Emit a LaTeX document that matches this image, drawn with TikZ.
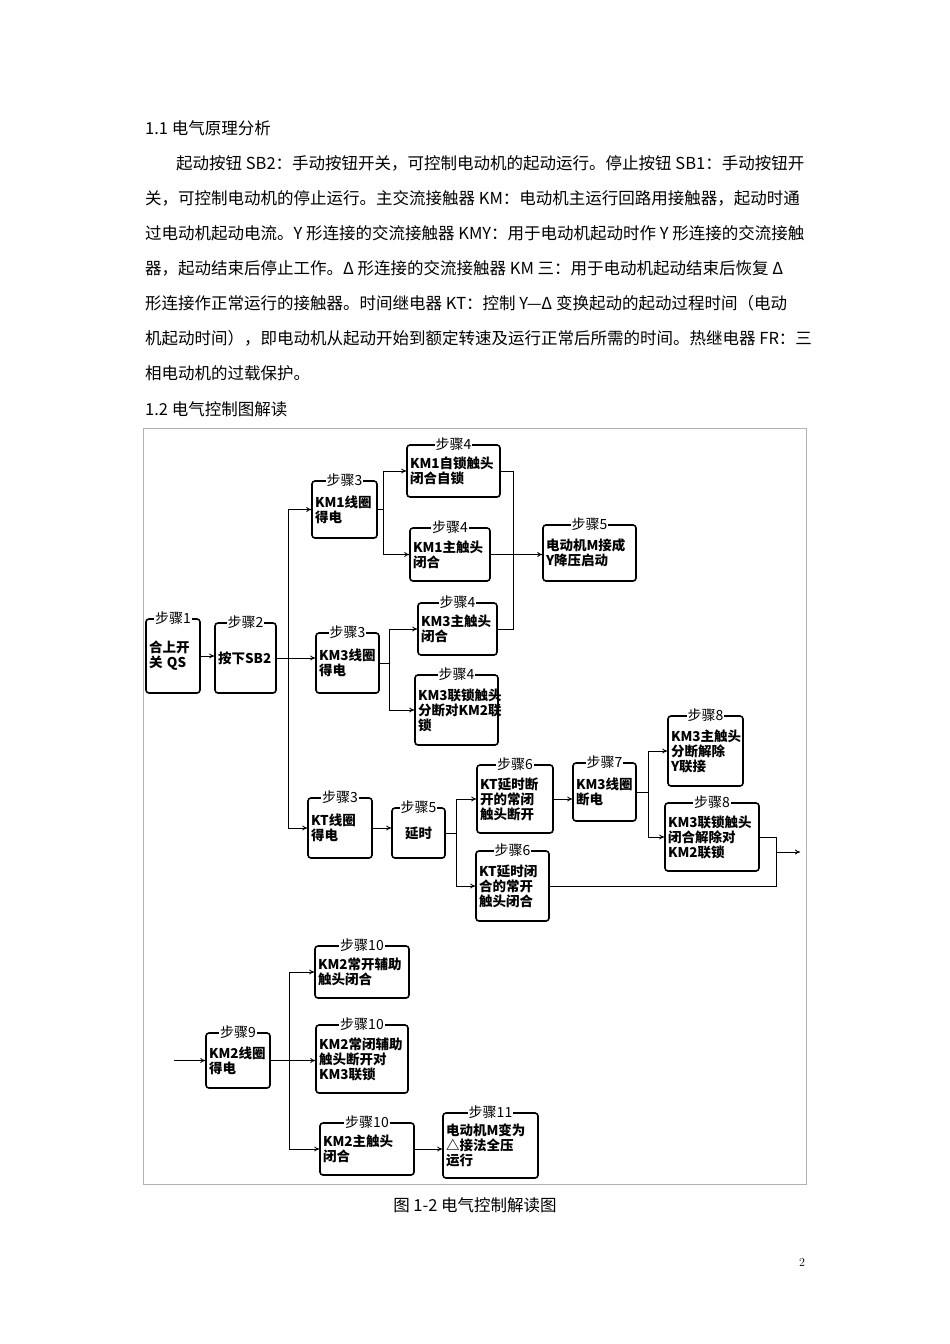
\documentclass[tikz,border=0pt]{standalone}
\usepackage{fontspec}
\newfontfamily\cjk{Noto Sans CJK SC}
\usetikzlibrary{arrows.meta}
\tikzset{
 box/.style={draw,line width=1.6pt,rounded corners=3pt,align=left,inner xsep=3pt,inner ysep=1pt,font=\cjk\bfseries\fontsize{13.5}{15}\selectfont},
 ttl/.style={fill=white,inner sep=1pt,font=\cjk\fontsize{14}{14}\selectfont},
 con/.style={line width=0.9pt},
 arr/.style={con,-{To[length=5pt,width=5pt]}},
 txt/.style={anchor=base west,inner sep=0,font=\cjk\fontsize{16.5}{18}\selectfont}
}
\newcommand\bx[7]{%
 \pgfmathsetmacro\bw{#4-#2}\pgfmathsetmacro\bh{#5-#3}\pgfmathsetmacro\tw{#4-#2-6}%
 \node[box,minimum width=\bw pt,minimum height=\bh pt,text width=\tw pt] (#1) at ({(#2+#4)/2},{(#3+#5)/2+3}) {#7};
 \node[ttl] at (#1.north) {#6};}
\begin{document}
\begin{tikzpicture}[x=1pt,y=-1pt]
\useasboundingbox[fill=white] (0,0) rectangle (950,1344);
\node[txt] (l0) at (145,134) {1.1 电气原理分析};
\node[txt] (l1) at (176,169) {起动按钮 SB2：手动按钮开关，可控制电动机的起动运行。停止按钮 SB1：手动按钮开};
\node[txt] (l2) at (145,204) {关，可控制电动机的停止运行。主交流接触器 KM：电动机主运行回路用接触器，起动时通};
\node[txt] (l3) at (145,239) {过电动机起动电流。Y 形连接的交流接触器 KMY：用于电动机起动时作 Y 形连接的交流接触};
\node[txt] (l4) at (145,274) {器，起动结束后停止工作。Δ 形连接的交流接触器 KM 三：用于电动机起动结束后恢复 Δ};
\node[txt] (l5) at (145,309) {形连接作正常运行的接触器。时间继电器 KT：控制 Y—Δ 变换起动的起动过程时间（电动};
\node[txt] (l6) at (145,344) {机起动时间），即电动机从起动开始到额定转速及运行正常后所需的时间。热继电器 FR：三};
\node[txt] (l7) at (145,379) {相电动机的过载保护。};
\node[txt] (l8) at (145,415) {1.2 电气控制图解读};
\draw[gray!60,line width=0.8pt] (143,428) rectangle (806,1184);
\bx{s1}{146}{616}{200}{690}{步骤1}{合上开\\关 QS}
\bx{s2}{215}{620}{276}{690}{步骤2}{按下SB2}
\bx{s3a}{312}{478}{377}{535}{步骤3}{KM1线圈\\得电}
\bx{s4a}{407}{442}{500}{494}{步骤4}{KM1自锁触头\\闭合自锁}
\bx{s4b}{410}{525}{490}{578}{步骤4}{KM1主触头\\闭合}
\bx{s5}{543}{522}{636}{578}{步骤5}{电动机M接成\\Y降压启动}
\bx{s4c}{418}{600}{497}{652}{步骤4}{KM3主触头\\闭合}
\bx{s3b}{316}{630}{379}{690}{步骤3}{KM3线圈\\得电}
\bx{s4d}{415}{672}{498}{742}{步骤4}{KM3联锁触头\\分断对KM2联\\锁}
\bx{s3c}{308}{795}{372}{855}{步骤3}{KT线圈\\得电}
\bx{s5b}{392}{805}{445}{855}{步骤5}{\hfil 延时}
\bx{s6a}{477}{762}{553}{830}{步骤6}{KT延时断\\开的常闭\\触头断开}
\bx{s6b}{476}{848}{549}{918}{步骤6}{KT延时闭\\合的常开\\触头闭合}
\bx{s7}{573}{760}{636}{818}{步骤7}{KM3线圈\\断电}
\bx{s8a}{668}{713}{743}{783}{步骤8}{KM3主触头\\分断解除\\Y联接}
\bx{s8b}{665}{800}{759}{868}{步骤8}{KM3联锁触头\\闭合解除对\\KM2联锁}
\bx{s9}{206}{1030}{270}{1085}{步骤9}{KM2线圈\\得电}
\bx{s10a}{315}{943}{409}{995}{步骤10}{KM2常开辅助\\触头闭合}
\bx{s10b}{316}{1022}{408}{1090}{步骤10}{KM2常闭辅助\\触头断开对\\KM3联锁}
\bx{s10c}{320}{1120}{414}{1172}{步骤10}{KM2主触头\\闭合}
\bx{s11}{443}{1110}{538}{1175}{步骤11}{电动机M变为\\△接法全压\\运行}
% connectors
\draw[arr] (s1.east) -- (s1.east -| s2.west);
\coordinate (b2) at (288,0);
\draw[arr] (s2.east) -| (b2 |- s3a.west) -- (s3a.west);
\draw[arr] (s2.east) -- (s2.east -| s3b.west);
\draw[arr] (s2.east) -| (b2 |- s3c.west) -- (s3c.west);
\coordinate (b3) at (383,0);
\draw[arr] (s3a.east) -| (b3 |- s4a.west) -- (s4a.west);
\draw[arr] (s3a.east) -| (b3 |- s4b.west) -- (s4b.west);
\draw[arr] (s4b.east) -- (s4b.east -| s5.west);
\coordinate (j) at (513,0);
\draw[con] (s4a.east) -| (j |- s4c.east) -- (s4c.east);
\coordinate (b4) at (389,0);
\draw[arr] (s3b.east) -| (b4 |- s4c.west) -- (s4c.west);
\draw[arr] (s3b.east) -| (b4 |- s4d.west) -- (s4d.west);
\draw[arr] (s3c.east) -- (s3c.east -| s5b.west);
\coordinate (b5) at (456,0);
\draw[arr] (s5b.east) -| (b5 |- s6a.west) -- (s6a.west);
\draw[arr] (s5b.east) -| (b5 |- s6b.west) -- (s6b.west);
\draw[arr] (s6a.east) -- (s6a.east -| s7.west);
\coordinate (b7) at (648,0);
\draw[arr] (s7.east) -| (b7 |- s8a.west) -- (s8a.west);
\draw[arr] (s7.east) -| (b7 |- s8b.west) -- (s8b.west);
\coordinate (k) at (776,852);
\draw[con] (s8b.east) -| (k |- s6b.east) -- (s6b.east);
\coordinate (kout) at (800,852);
\draw[arr] (k) -- (kout);
\coordinate (in9) at ([xshift=-31pt]s9.west);
\draw[arr] (in9) -- (s9.west);
\coordinate (b9) at (289,0);
\draw[arr] (s9.east) -| (b9 |- s10a.west) -- (s10a.west);
\draw[arr] (s9.east) -- (s9.east -| s10b.west);
\draw[arr] (s9.east) -| (b9 |- s10c.west) -- (s10c.west);
\draw[arr] (s10c.east) -- (s10c.east -| s11.west);
\node[txt,anchor=base] (cap) at (475,1211) {图 1-2 电气控制解读图};
\node[txt,anchor=base,font=\fontsize{12}{14}\selectfont] (pg) at (802,1266) {2};
\end{tikzpicture}
\end{document}
